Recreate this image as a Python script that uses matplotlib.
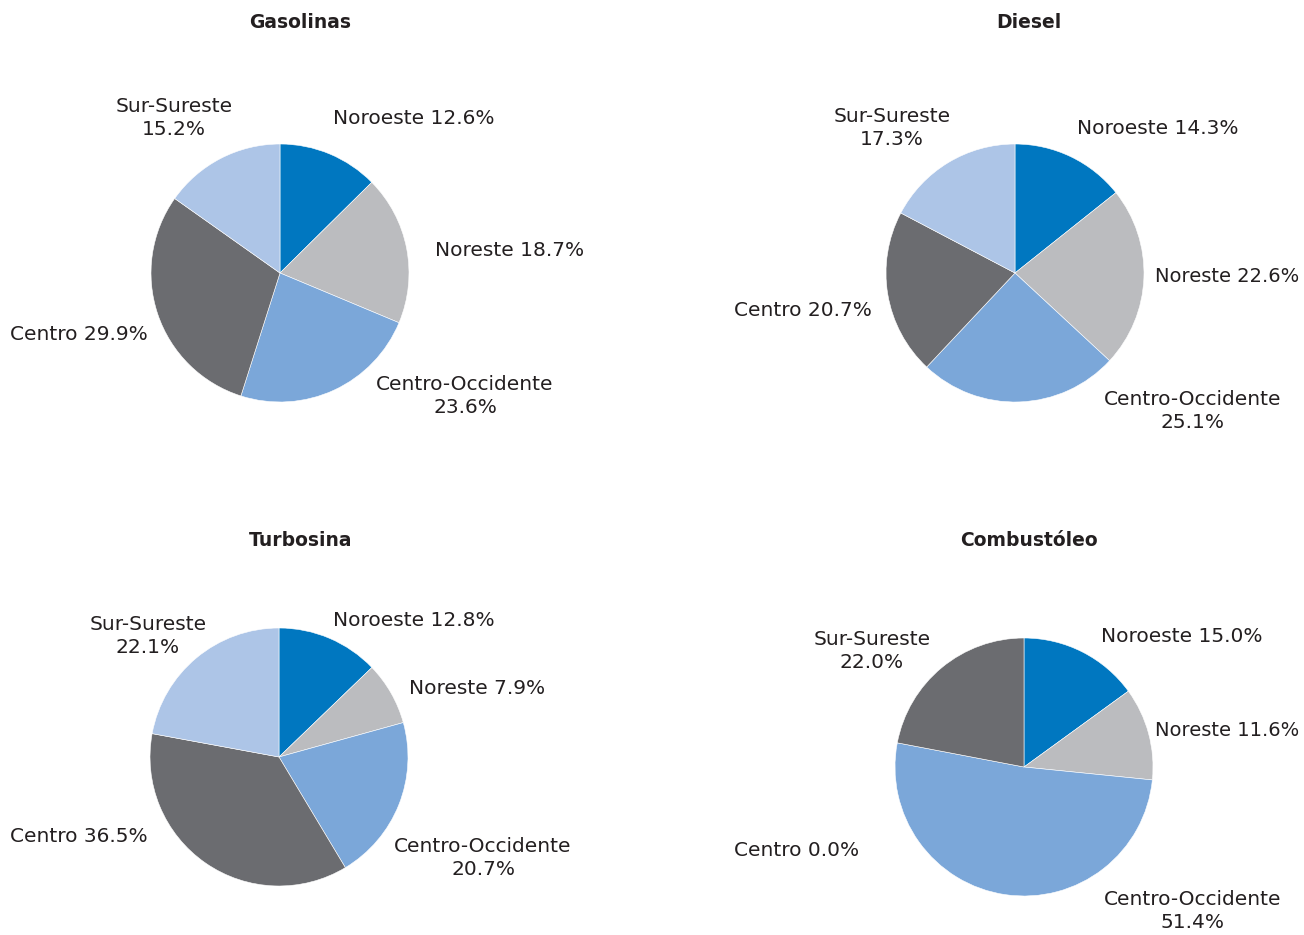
import matplotlib.pyplot as plt

W, H = 1304, 935

regions = ['Noroeste', 'Noreste', 'Centro-Occidente', 'Centro', 'Sur-Sureste']
titles = ['Gasolinas', 'Diesel', 'Turbosina', 'Combustóleo']

gasolinas = [12.6, 18.7, 23.6, 29.9, 15.2]
diesel = [14.3, 22.6, 25.1, 20.7, 17.3]
turbosina = [12.8, 7.9, 20.7, 36.5, 22.1]
combustoleo = [15.0, 11.6, 51.4, 0.0, 22.0]

palette = ['#0077c0', '#bbbcbf', '#7ba7d9', '#6b6c70', '#adc5e7']
text_color = '#231f20'

plt.rcParams['font.family'] = ['DejaVu Sans']

fig = plt.figure(figsize=(W / 100, H / 100), dpi=100)

# layout in pixels: pie centre, title position
panels = [
    dict(vals=gasolinas, c=(280, 273), t=(300, 22)),
    dict(vals=diesel, c=(1015, 273), t=(1029, 22)),
    dict(vals=turbosina, c=(279, 757), t=(301, 541)),
    dict(vals=combustoleo, c=(1024, 767), t=(1029, 540)),
]
R = 129

# label positions (x, y, ha, size) per region, in pixels
label_pos = [
    [(333, 119, 'left', 14.5), (435, 250, 'left', 14.5), (465, 396, 'center', 14.5),
     (10, 335, 'left', 14.5), (174, 118, 'center', 14.5)],
    [(1077, 128, 'left', 14.5), (1155, 277, 'left', 14), (1193, 411, 'center', 14.5),
     (734, 311, 'left', 14.5), (892, 128, 'center', 14.5)],
    [(333, 620, 'left', 14.5), (409, 688, 'left', 14.5), (483, 858, 'center', 14.5),
     (10, 836, 'left', 14.5), (148, 636, 'center', 14.5)],
    [(1101, 636, 'left', 14.5), (1155, 731, 'left', 14), (1193, 911, 'center', 14.5),
     (734, 851, 'left', 14.5), (872, 651, 'center', 14.5)],
]
two_line = ['Centro-Occidente', 'Sur-Sureste']


def px(x, y):
    return x / W, 1 - y / H


for p, title, lp in zip(panels, titles, label_pos):
    cx, cy = p['c']
    ax = fig.add_axes([(cx - R) / W, 1 - (cy + R) / H, 2 * R / W, 2 * R / H])
    # colours skip empty regions
    vals = [v for v in p['vals'] if v > 0]
    cols = palette[:len(vals)]
    ax.pie(vals, colors=cols, startangle=90, counterclock=False,
           wedgeprops=dict(linewidth=0.4, edgecolor='white'))
    ax.set_xlim(-1, 1)
    ax.set_ylim(-1, 1)
    ax.set_aspect('equal')
    ax.axis('off')

    tx, ty = px(*p['t'])
    fig.text(tx, ty, title, ha='center', va='center', fontsize=13.5,
             fontweight='bold', color=text_color)

    for name, v, (x, y, ha, size) in zip(regions, p['vals'], lp):
        if name in two_line:
            s = f'{name}\n{v:.1f}%'
        else:
            s = f'{name} {v:.1f}%'
        fx, fy = px(x, y)
        fig.text(fx, fy, s, ha=ha, va='center', fontsize=size,
                 color=text_color, linespacing=1.25, multialignment='center')

fig.savefig('out.png', dpi=100, facecolor='white')
